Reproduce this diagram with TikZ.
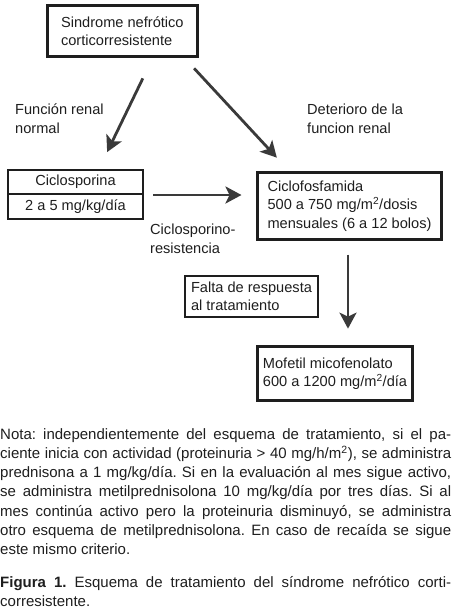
\documentclass[tikz,border=0pt]{standalone}
\usepackage{fontspec}
\setmainfont{Liberation Sans}
\usetikzlibrary{arrows.meta}
\definecolor{tinta}{HTML}{1E1E1E}
\definecolor{grisflecha}{HTML}{3A3A3A}
\frenchspacing
\begin{document}
\begin{tikzpicture}[x=1pt,y=-1pt]
\tikzstyle{every node}=[font=\fontsize{14.6}{18.3}\selectfont,text=tinta,inner sep=0pt]
\tikzstyle{caja}=[draw=tinta,line width=3pt,align=left]
\tikzstyle{cajafina}=[draw=tinta,line width=2pt]
\tikzstyle{flecha}=[draw=grisflecha,line width=2.8pt,-{Stealth[length=16pt,width=17pt,inset=4pt]}]
\tikzstyle{etiqueta}=[anchor=north west,align=left]
\useasboundingbox (0,0) rectangle (451,614);
% cajas
\node[caja,minimum width=150.3pt,minimum height=50.7pt](snc) at (122.35,30.85) {Sindrome nefrótico\\corticorresistente};
\node[cajafina,minimum width=135pt,minimum height=24pt](csa) at (75.5,182) {Ciclosporina};
\node[cajafina,minimum width=135pt,minimum height=25pt](csad) at (75.5,206.5) {2 a 5 mg/kg/día};
\node[caja,minimum width=184pt,minimum height=67pt](cfm) at (349.5,206) {Ciclofosfamida\\500 a 750 mg/m\textsuperscript{2}/dosis\\mensuales (6 a 12 bolos)};
\node[cajafina,align=left,minimum width=133pt,minimum height=41pt](falta) at (251.5,296.5) {Falta de respuesta\\al tratamiento};
\node[caja,line width=2.7pt,minimum width=155.2pt,minimum height=54.2pt](mmf) at (335,373.5) {Mofetil micofenolato\\600 a 1200 mg/m\textsuperscript{2}/día};
% etiquetas
\node[etiqueta](fn) at (15,104) {Función renal\\normal};
\node[etiqueta](dfr) at (307,104) {Deterioro de la\\funcion renal};
\node[etiqueta](res) at (150,224) {Ciclosporino-\\resistencia};
% flechas
\draw[flecha,shorten <=23pt,shorten >=18.8pt] ([xshift=30.5pt]snc.south) -- ([xshift=23.45pt]csa.north);
\draw[flecha,shorten <=14.5pt,shorten >=18.2pt] ([xshift=61.9pt]snc.south) -- ([xshift=-60.3pt]cfm.north);
\draw[flecha,shorten <=9pt,shorten >=14.5pt] (csa.south east) -- (csa.south east -| cfm.west);
\draw[flecha,shorten <=13.5pt,shorten >=16.4pt] ([xshift=-1.5pt]cfm.south) -- ([xshift=-1.5pt]cfm.south |- mmf.north);
% nota y pie
\node[anchor=north west,text width=451pt,align=justify,font=\fontsize{15}{19.3}\selectfont](nota) at (0,428) {Nota: independientemente del esquema de tratamiento, si el pa-\linebreak ciente inicia con actividad (proteinuria > 40 mg/h/m\textsuperscript{2}), se administra\linebreak prednisona a 1 mg/kg/día. Si en la evaluación al mes sigue activo,\linebreak se administra metilprednisolona 10 mg/kg/día por tres días. Si al\linebreak mes continúa activo pero la proteinuria disminuyó, se administra\linebreak otro esquema de metilprednisolona. En caso de recaída se sigue\linebreak este mismo criterio.};
\node[anchor=north west,text width=451pt,align=justify,font=\fontsize{15}{19.3}\selectfont](pie) at (0,576) {\textbf{Figura 1.} Esquema de tratamiento del síndrome nefrótico corti-\linebreak corresistente.};
\end{tikzpicture}
\end{document}
